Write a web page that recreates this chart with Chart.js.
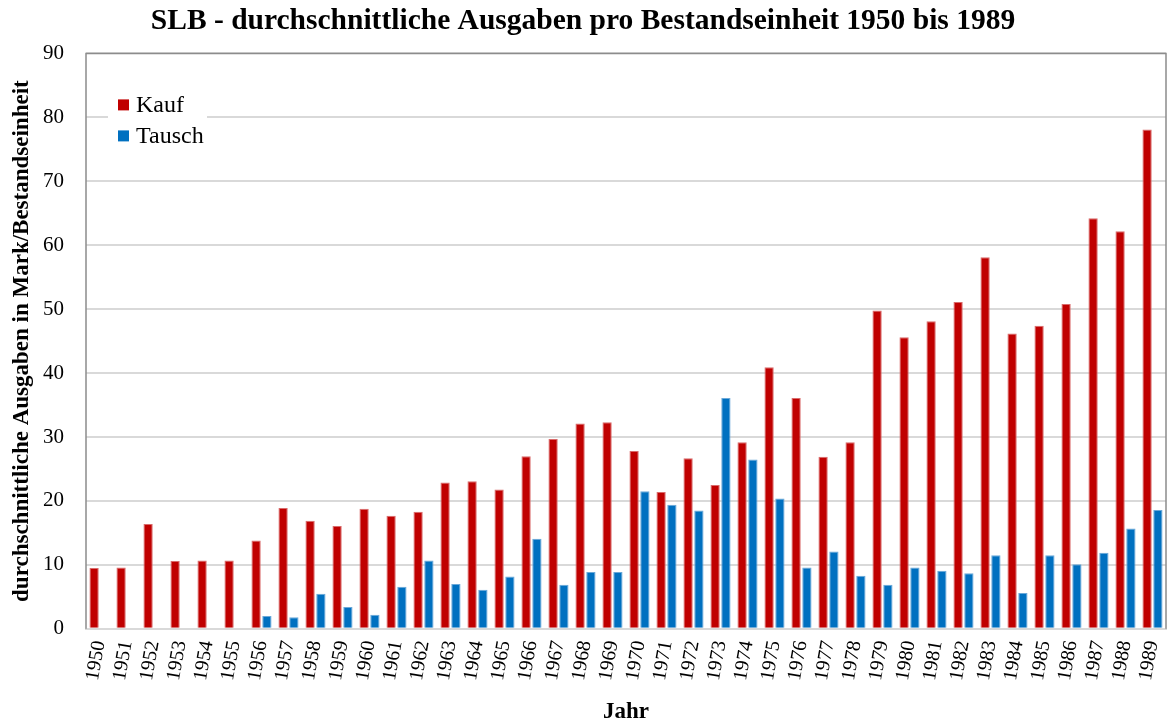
<!DOCTYPE html>
<html>
<head>
<meta charset="utf-8">
<script src="https://cdn.jsdelivr.net/npm/chart.js@4/dist/chart.umd.min.js"></script>
<style>
  html, body { margin: 0; padding: 0; background: #fff; }
  #wrap { width: 1168px; height: 726px; }
</style>
</head>
<body>
<div id="wrap"><canvas id="slbChart" width="1168" height="726"></canvas></div>
<script>
const years = ["1950","1951","1952","1953","1954","1955","1956","1957","1958","1959",
  "1960","1961","1962","1963","1964","1965","1966","1967","1968","1969",
  "1970","1971","1972","1973","1974","1975","1976","1977","1978","1979",
  "1980","1981","1982","1983","1984","1985","1986","1987","1988","1989"];

const kauf = [9.5, 9.6, 16.4, 10.6, 10.7, 10.7, 13.8, 18.9, 16.9, 16.1,
  18.8, 17.7, 18.3, 22.9, 23.1, 21.8, 27.0, 29.7, 32.1, 32.3,
  27.8, 21.4, 26.7, 22.5, 29.2, 40.9, 36.1, 26.9, 29.2, 49.8,
  45.6, 48.1, 51.1, 58.1, 46.2, 47.4, 50.8, 64.2, 62.2, 78.1];

const tausch = [null, null, null, null, null, null, 2.0, 1.8, 5.5, 3.4,
  2.2, 6.6, 10.7, 7.0, 6.1, 8.2, 14.1, 6.9, 8.9, 8.9,
  21.5, 19.4, 18.5, 36.1, 26.5, 20.4, 9.6, 12.1, 8.3, 6.9,
  9.6, 9.1, 8.7, 11.5, 5.6, 11.5, 10.1, 11.9, 15.7, 18.6];

const yTicks = [0, 10, 20, 30, 40, 50, 60, 70, 80, 90];

const serif = '"Liberation Serif", "Times New Roman", serif';
const gridColor = "#d9d9d9";
const borderColor = "#8c8c8c";

// frame round the plot + legend box inside the plot
const framePlugin = {
  id: "frame",
  afterDraw(chart) {
    const c = chart.ctx;
    const a = chart.chartArea;
    c.save();
    c.strokeStyle = borderColor;
    c.lineWidth = 1.5;
    c.beginPath();
    c.moveTo(a.left, a.bottom);
    c.lineTo(a.left, a.top);
    c.lineTo(a.right, a.top);
    c.lineTo(a.right, a.bottom);
    c.stroke();

    // legend
    const x0 = a.left + 22, y0 = a.top + 28;
    c.fillStyle = "#fff";
    c.fillRect(x0, y0, 99, 76);
    c.font = "24px " + serif;
    c.textBaseline = "middle";
    chart.data.datasets.forEach((ds, i) => {
      const y = y0 + 23 + i * 31;
      c.fillStyle = ds.backgroundColor;
      c.fillRect(x0 + 10, y - 5, 11, 11);
      c.fillStyle = "#000";
      c.fillText(ds.label, x0 + 28, y + 1);
    });
    c.restore();
  },
};

new Chart(document.getElementById("slbChart").getContext("2d"), {
  type: "bar",
  data: {
    labels: years,
    datasets: [
      {
        label: "Kauf",
        data: kauf,
        backgroundColor: "#c00000",
        borderColor: "#d96b6b",
        borderWidth: { top: 1, left: 1, right: 1, bottom: 0 },
        categoryPercentage: 0.8,
        barPercentage: 0.86,
      },
      {
        label: "Tausch",
        data: tausch,
        backgroundColor: "#0070c0",
        borderColor: "#6aa8d8",
        borderWidth: { top: 1, left: 1, right: 1, bottom: 0 },
        categoryPercentage: 0.8,
        barPercentage: 0.86,
      },
    ],
  },
  options: {
    responsive: false,
    animation: false,
    layout: { padding: { left: 0, right: 2, top: 0, bottom: 0 } },
    plugins: {
      legend: { display: false },
      tooltip: { enabled: false },
      title: {
        display: true,
        text: "SLB - durchschnittliche Ausgaben pro Bestandseinheit 1950 bis 1989",
        color: "#000",
        font: { family: serif, size: 29.5, weight: "bold" },
        padding: { top: 4, bottom: 14 },
      },
    },
    scales: {
      x: {
        grid: { display: false },
        border: { color: gridColor, width: 2 },
        afterFit(scale) {
          // let the last rotated label hang into the margin, like the original
          scale.paddingRight = 0;
        },
        ticks: {
          color: "#000",
          font: { family: serif, size: 20 },
          minRotation: 80,
          maxRotation: 80,
          autoSkip: false,
          padding: 2,
        },
        title: {
          display: true,
          text: "Jahr",
          color: "#000",
          font: { family: serif, size: 23, weight: "bold" },
          padding: { top: 14, bottom: 0 },
        },
      },
      y: {
        min: 0,
        max: 90,
        afterBuildTicks(scale) {
          scale.ticks = yTicks.map((v) => ({ value: v }));
        },
        afterFit(scale) {
          scale.width = 86;
        },
        grid: { color: gridColor, lineWidth: 2, drawTicks: false },
        border: { display: false },
        ticks: {
          color: "#000",
          font: { family: serif, size: 21 },
          padding: 22,
        },
        title: {
          display: true,
          text: "durchschnittliche Ausgaben in Mark/Bestandseinheit",
          color: "#000",
          font: { family: serif, size: 23, weight: "bold" },
          padding: { top: 8, bottom: 0 },
        },
      },
    },
  },
  plugins: [framePlugin],
});
</script>
</body>
</html>
